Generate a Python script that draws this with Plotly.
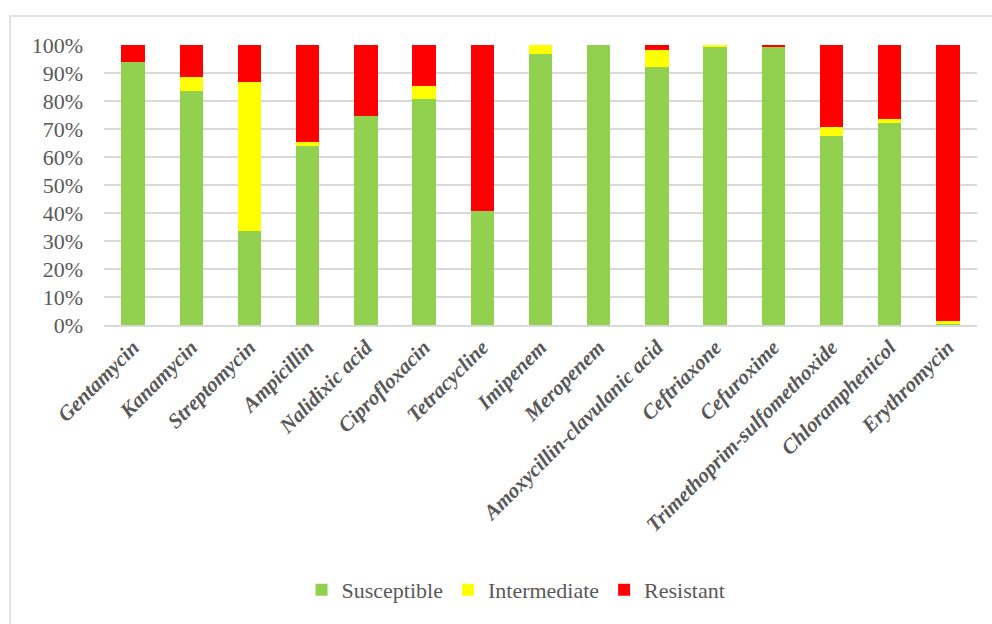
import plotly.graph_objects as go

antibiotics = ["Gentamycin", "Kanamycin", "Streptomycin", "Ampicillin", "Nalidixic acid",
               "Ciprofloxacin", "Tetracycline", "Imipenem", "Meropenem",
               "Amoxycillin-clavulanic acid", "Ceftriaxone", "Cefuroxime",
               "Trimethoprim-sulfomethoxide", "Chloramphenicol", "Erythromycin"]
susceptible = [93.8, 83.7, 33.7, 63.8, 74.6, 80.6, 40.7, 96.8, 100.0, 92.2, 99.3, 99.3, 67.6, 72.1, 0.5]
intermediate = [0.0, 4.8, 53.1, 1.5, 0.0, 4.8, 0.0, 3.2, 0.0, 6.1, 0.7, 0.0, 3.1, 1.5, 0.9]
resistant = [6.2, 11.5, 13.2, 34.7, 25.4, 14.6, 59.3, 0.0, 0.0, 1.7, 0.0, 0.7, 29.3, 26.4, 98.6]

series_names = ["Susceptible", "Intermediate", "Resistant"]
series_colors = ["#92D050", "#FFFF00", "#FF0000"]

FONT = "Liberation Serif"

fig = go.Figure()
for name, vals, col in zip(series_names, [susceptible, intermediate, resistant], series_colors):
    fig.add_trace(go.Bar(x=antibiotics, y=vals, name=name, marker_color=col,
                         marker_line_width=0))

W, H = 992, 624
ml, mr, mt, mb = 104, 15, 45, 299
pw, ph = W - ml - mr, H - mt - mb

def px_to_paper_x(px):
    return (px - ml) / pw

def px_to_paper_y(py):
    return (H - mb - py) / ph

fig.update_layout(
    width=W, height=H,
    margin=dict(l=ml, r=mr, t=mt, b=mb),
    barmode="stack",
    bargap=0.6,
    plot_bgcolor="white",
    paper_bgcolor="white",
    font=dict(family=FONT, color="#595959"),
    showlegend=True,
    legend=dict(orientation="h", x=px_to_paper_x(516), xanchor="center",
                y=px_to_paper_y(590), yanchor="middle",
                font=dict(family=FONT, size=22, color="#595959"),
                itemwidth=30, traceorder="normal"),
    xaxis=dict(tickangle=-45,
               tickfont=dict(family=FONT, size=21, color="#595959", weight="bold", style="italic"),
               showline=True, linecolor="#D9D9D9", linewidth=1.5,
               showgrid=False, ticks=""),
    yaxis=dict(range=[0, 100], dtick=10, ticksuffix="%",
               tickfont=dict(family=FONT, size=22, color="#595959"),
               showgrid=True, gridcolor="#D9D9D9", gridwidth=1.5,
               zeroline=False, showline=False, ticks="",
               ticklabelstandoff=20),
    shapes=[dict(type="rect", xref="paper", yref="paper",
                 x0=px_to_paper_x(10), y0=px_to_paper_y(700),
                 x1=px_to_paper_x(1100), y1=px_to_paper_y(16),
                 line=dict(color="#D9D9D9", width=1.5), fillcolor="rgba(0,0,0,0)",
                 layer="below")],
)

fig.write_html("out.html")
